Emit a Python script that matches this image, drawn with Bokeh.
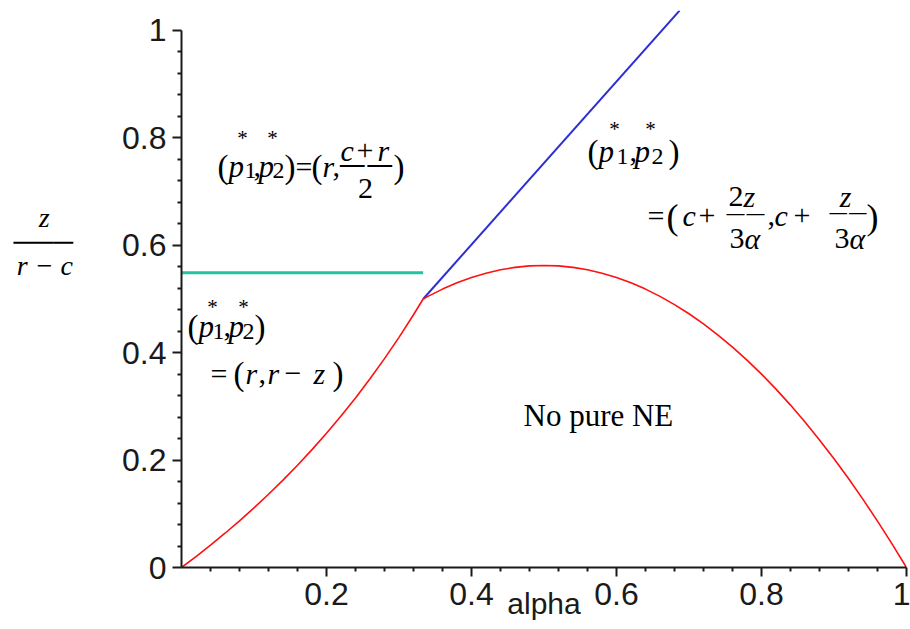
from bokeh.plotting import figure
from bokeh.models import Label, FixedTicker, Range1d
from bokeh.embed import file_html
from bokeh.resources import INLINE

# ---------------- data ----------------
alpha_left = [0.0, 0.02, 0.04, 0.06, 0.08, 0.10, 0.12, 0.14, 0.16, 0.18,
              0.20, 0.22, 0.24, 0.26, 0.28, 0.30, 0.32, 0.3333]
ratio_left = [0.0, 0.0204, 0.0417, 0.0638, 0.0870, 0.1111, 0.1364, 0.1628, 0.1905, 0.2195,
              0.25, 0.2821, 0.3158, 0.3514, 0.3889, 0.4286, 0.4706, 0.5]

alpha_right = [0.3333, 0.34, 0.36, 0.38, 0.40, 0.42, 0.44, 0.46, 0.48, 0.50,
               0.52, 0.54, 0.56, 0.58, 0.60, 0.62, 0.64, 0.66, 0.68, 0.70,
               0.72, 0.74, 0.76, 0.78, 0.80, 0.82, 0.84, 0.86, 0.88, 0.90,
               0.92, 0.94, 0.96, 0.98, 1.0]
ratio_right = [0.5, 0.5049, 0.5184, 0.5301, 0.54, 0.5481, 0.5544, 0.5589, 0.5616, 0.5625,
               0.5616, 0.5589, 0.5544, 0.5481, 0.54, 0.5301, 0.5184, 0.5049, 0.4896, 0.4725,
               0.4536, 0.4329, 0.4104, 0.3861, 0.36, 0.3321, 0.3024, 0.2709, 0.2376, 0.2025,
               0.1656, 0.1269, 0.0864, 0.0441, 0.0]

alpha_blue = [0.3333, 0.687]
ratio_blue = [0.5, 1.037]

alpha_green = [0.0, 0.3333]
ratio_green = [0.549, 0.549]

x_ticks = [0.2, 0.4, 0.6, 0.8, 1.0]
y_ticks = [0.0, 0.2, 0.4, 0.6, 0.8, 1.0]
minor_ticks = [round(i * 0.04, 2) for i in range(1, 26) if i % 5]

x_title = "alpha"
NB = "\u00a0"
y_title = ("z" + NB * 3 + "\u200a" + "\n" + "\u2500" * 3 + "\n" + "r \u2212 c" + "\n"
           + "\n".join([NB] * 4))

# ---------------- figure ----------------
p = figure(width=910, height=629, output_backend="svg", toolbar_location=None,
           x_range=Range1d(0, 1), y_range=Range1d(0, 1.0372),
           min_border_left=181, min_border_right=4, min_border_top=10, min_border_bottom=62)
p.outline_line_color = None
p.grid.visible = False
p.background_fill_color = "white"
p.border_fill_color = "white"

for ax in (p.xaxis[0], p.yaxis[0]):
    ax.axis_line_width = 2
    ax.axis_line_color = "#1a1a1a"
    ax.major_tick_line_width = 2
    ax.minor_tick_line_width = 2
    ax.major_tick_line_color = "#1a1a1a"
    ax.minor_tick_line_color = "#1a1a1a"
    ax.major_tick_in = 0
    ax.major_tick_out = 9
    ax.minor_tick_in = 0
    ax.minor_tick_out = 4
    ax.major_label_text_font = "Liberation Sans"
    ax.major_label_text_font_size = "32px"
    ax.major_label_text_color = "#1a1a1a"

p.xaxis.ticker = FixedTicker(ticks=x_ticks, minor_ticks=minor_ticks)
p.yaxis.ticker = FixedTicker(ticks=y_ticks, minor_ticks=minor_ticks)
p.yaxis.bounds = (0, 1)
p.xaxis.major_label_standoff = 6
p.yaxis.major_label_standoff = 6

p.xaxis.axis_label = x_title
p.xaxis.axis_label_text_font = "Liberation Sans"
p.xaxis.axis_label_text_font_style = "normal"
p.xaxis.axis_label_text_font_size = "30px"
p.xaxis.axis_label_text_color = "#1a1a1a"
p.xaxis.axis_label_standoff = -21

p.yaxis.axis_label = y_title
p.yaxis.axis_label_orientation = "horizontal"
p.yaxis.axis_label_text_font = "Liberation Serif"
p.yaxis.axis_label_text_font_style = "italic"
p.yaxis.axis_label_text_font_size = "28px"
p.yaxis.axis_label_text_line_height = 0.77
p.yaxis.axis_label_text_color = "black"
p.yaxis.axis_label_standoff = 46

p.line(alpha_green, ratio_green, line_color="#20c4a0", line_width=3)
p.line(alpha_blue, ratio_blue, line_color="#2e2ed2", line_width=2)
p.line(alpha_left, ratio_left, line_color="#ff1010", line_width=1.6)
p.line(alpha_right, ratio_right, line_color="#ff1010", line_width=1.6)

# ---------------- text (placed relative to the axes) ----------------
X0, XS, Y0, YS = 181.0, 725.0, 567.0, 537.0
SERIF = "Liberation Serif"


def put(text, px, py, anchor, size, italic=False, align="left", font=SERIF, color="black"):
    p.add_layout(Label(x=(anchor - X0) / XS, y=(Y0 - py) / YS, x_offset=px - anchor,
                       text=text, text_font=font, text_font_size=f"{size}px",
                       text_font_style="italic" if italic else "normal",
                       text_align=align, text_baseline="alphabetic", text_color=color))


def bar(cx, py, width, anchor):
    size = width / 2.0
    put("\u2014\u2014", cx, py + 0.27 * size, anchor, round(size, 1), align="center",
        font="DejaVu Sans")


def pair(anchor, base, star_base, sub_base, xs):
    # (p1*, p2*)
    put("(", xs[0], base + 1, anchor, 33)
    put("p", xs[1], base, anchor, 31, italic=True)
    put("*", xs[2], star_base, anchor, 21, align="center")
    put("1", xs[3], sub_base, anchor, 24)
    put(",", xs[4], base, anchor, 30)
    put("p", xs[5], base, anchor, 31, italic=True)
    put("*", xs[6], star_base, anchor, 21, align="center")
    put("2", xs[7], sub_base, anchor, 24)
    put(")", xs[8], base + 1, anchor, 33)


# formula 1: (p1*, p2*) = (r, (c+r)/2)
a = 217
pair(a, 166, 138, 170, [217, 228, 242, 244, 253, 258, 272, 272, 284])
put("=", 295, 166, a, 30)
put("(", 311, 167, a, 33)
put("r", 322, 166, a, 30, italic=True)
put(",", 332, 166, a, 30)
put("c", 340, 150, a, 30, italic=True)
put("+", 356, 150, a, 30)
put("r", 377, 150, a, 30, italic=True)
bar(365.5, 156, 55, a)
put("2", 365, 188, a, 30, align="center")
put(")", 393, 167, a, 33)

# formula 2: (p1*, p2*) = (r, r - z)
a = 187
pair(a, 326, 307, 331, [187, 198, 212, 212, 223, 228, 243, 242, 254])
put("=", 210, 373, a, 30)
put("(", 233, 374, a, 33)
put("r", 245, 373, a, 30, italic=True)
put(",", 258, 373, a, 30)
put("r", 267, 373, a, 30, italic=True)
put("\u2212", 284, 373, a, 30)
put("z", 313, 373, a, 30, italic=True)
put(")", 332, 374, a, 33)

# formula 3: (p1*, p2*) = (c + 2z/(3a), c + z/(3a))
a = 587
pair(a, 151, 129, 156, [587, 598, 614, 616, 629, 634, 650, 651, 668])
put("=", 647, 215, a, 30)
put("(", 666, 217, a, 36)
put("c", 682, 215, a, 30, italic=True)
put("+", 698, 215, a, 30)
put("2", 728, 196, a, 30)
put("z", 743, 196, a, 30, italic=True)
bar(745, 207, 40, a)
put("3", 729, 238, a, 30)
put("\u03b1", 744, 238, a, 30, italic=True)
put(",", 767, 215, a, 30)
put("c", 774, 215, a, 30, italic=True)
put("+", 793, 215, a, 30)
put("z", 845, 196, a, 30, italic=True, align="center")
bar(847.5, 207, 39, a)
put("3", 834, 238, a, 30)
put("\u03b1", 849, 238, a, 30, italic=True)
put(")", 866, 217, a, 36)

# region label
put("No pure NE", 523, 415, 523, 31)

open("out.html", "w").write(file_html(p, INLINE))
